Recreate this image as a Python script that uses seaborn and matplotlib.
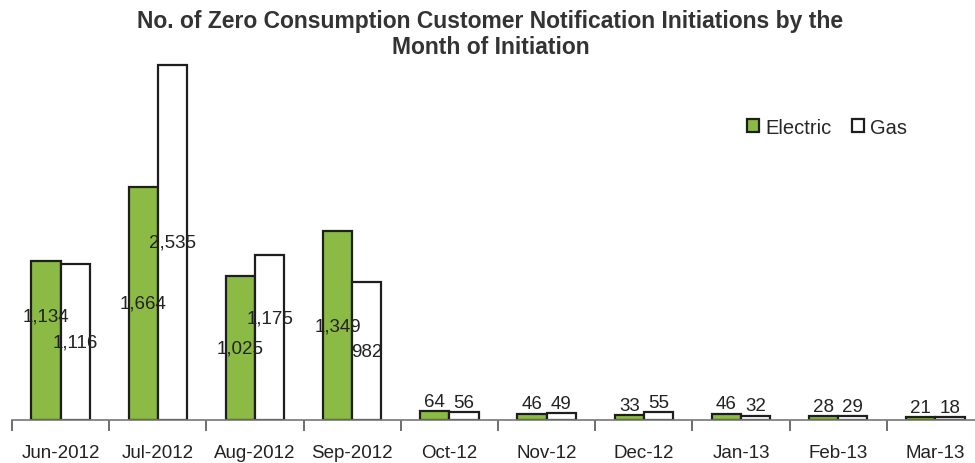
import numpy as np
import pandas as pd
import matplotlib
matplotlib.use("Agg")
import matplotlib.pyplot as plt
import seaborn as sns

months = ["Jun-2012", "Jul-2012", "Aug-2012", "Sep-2012", "Oct-12",
          "Nov-12", "Dec-12", "Jan-13", "Feb-13", "Mar-13"]
electric = [1134, 1664, 1025, 1349, 64, 46, 33, 46, 28, 21]
gas = [1116, 2535, 1175, 982, 56, 49, 55, 32, 29, 18]

# label nudges (points) where the original moved labels apart
nudge = {("Electric", "Jun-2012"): 18, ("Gas", "Aug-2012"): 14}

df = pd.DataFrame({
    "Month": months * 2,
    "Count": electric + gas,
    "Type": ["Electric"] * len(months) + ["Gas"] * len(months),
})

sns.set_style("white")
plt.rcParams["font.family"] = ["Liberation Sans", "DejaVu Sans"]

fig = plt.figure(figsize=(9.75, 4.64), dpi=100)
ax = fig.add_axes([12 / 975, 43 / 464, 972 / 975, 361 / 464])

sns.barplot(data=df, x="Month", y="Count", hue="Type", order=months,
            hue_order=["Electric", "Gas"],
            palette={"Electric": "#8cbb45", "Gas": "#ffffff"},
            width=0.6, gap=0, edgecolor="#1e1e1e", linewidth=1.6,
            saturation=1, ax=ax)

ax.set_xlim(-0.5, len(months) - 0.5)
ax.set_ylim(0, 2535 * 361 / 355)

for cont, name in zip(ax.containers, ["Electric", "Gas"]):
    for bar, m in zip(cont, months):
        v = bar.get_height()
        xc = bar.get_x() + bar.get_width() / 2
        txt = f"{int(v):,}"
        if v > 500:
            ax.annotate(txt, (xc, v / 2), xytext=(0, nudge.get((name, m), 0)),
                        textcoords="offset points", ha="center", va="center",
                        fontsize=13.5, color="#222222")
        else:
            ax.annotate(txt, (xc, v), xytext=(0, 1), textcoords="offset points",
                        ha="center", va="bottom", fontsize=13.5, color="#222222")

sns.despine(ax=ax, left=True)
ax.spines["bottom"].set_color("#777777")
ax.spines["bottom"].set_linewidth(1.2)
ax.set_yticks([])
ax.set_xlabel("")
ax.set_ylabel("")
ax.set_xticks(np.arange(len(months)))
ax.set_xticklabels(months, fontsize=13.5, color="#222222")
ax.set_xticks(np.arange(len(months) + 1) - 0.5, minor=True)
ax.tick_params(axis="x", which="major", length=0, pad=17)
ax.tick_params(axis="x", which="minor", length=8, width=1.2, color="#555555",
               direction="out", bottom=True)

ax.legend(loc="upper left", bbox_to_anchor=(0.748, 0.86), ncol=2, frameon=False,
          fontsize=14.5, handlelength=0.6, handleheight=0.6, handletextpad=0.3,
          columnspacing=1.0, borderaxespad=0)

fig.suptitle("No. of Zero Consumption Customer Notification Initiations by the\nMonth of Initiation",
             x=0.503, y=0.978, fontsize=16.5, fontweight="bold", color="#333333",
             linespacing=1.15, family=["Liberation Sans Narrow", "Liberation Sans", "DejaVu Sans"])

fig.savefig("out.png", dpi=100)
